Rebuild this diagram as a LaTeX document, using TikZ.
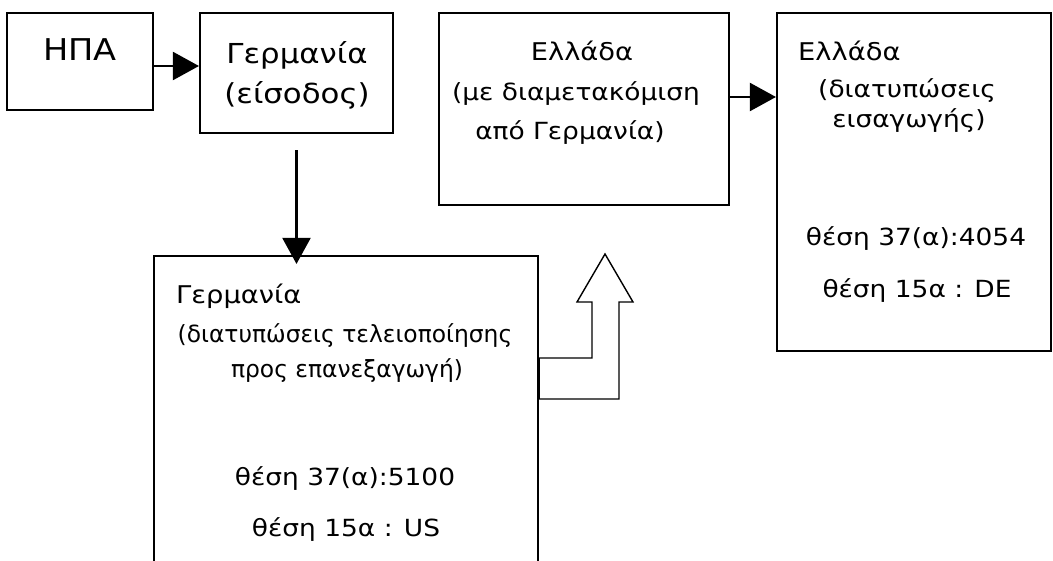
\documentclass[tikz,border=0pt]{standalone}
\usepackage{graphicx}
\usepackage{fontspec}
\setmainfont{DejaVu Sans}[FakeStretch=1.12]
\usetikzlibrary{arrows.meta,calc}
\newcommand{\narrowtext}[1]{\scalebox{0.885}[1]{#1}}
\begin{document}
\begin{tikzpicture}[x=1pt,y=-1pt,
  box/.style={draw, line width=2.1pt, inner sep=0pt},
  lbl/.style={anchor=base, inner sep=0pt, font=\fontsize{23.6}{28}\selectfont},
  head/.style={anchor=base, inner sep=0pt, font=\fontsize{24.4}{28}\selectfont},
  big/.style={anchor=base, inner sep=0pt, font=\fontsize{27.5}{32}\selectfont},
  conn/.style={line width=2.1pt, -{Triangle[length=26pt,width=28pt]}},
  blockarrow/.style={draw, line width=1.4pt, fill=white, line join=miter}]
\clip (0,0) rectangle (1053,560);
\fill[white] (0,0) rectangle (1053,560);
% boxes
\node[box, minimum width=146pt, minimum height=97pt]  (hpa)  at (80,61.5)   {};
\node[box, minimum width=193pt, minimum height=120pt] (ger)  at (296.5,73)  {};
\node[box, minimum width=290pt, minimum height=192pt] (mid)  at (584,109)   {};
\node[box, minimum width=274pt, minimum height=338pt] (rgt)  at (914,182)   {};
\node[box, minimum width=384pt, minimum height=319pt] (bot)  at (346,415.5) {};
% connectors
\draw[conn] (hpa.east |- 0,66) -- (ger.west |- 0,66);
\draw[conn] ($(ger.south)+(0,16)$) -- ($(ger.south |- bot.north)+(0,9)$);
\draw[conn] (mid.east |- 0,97) -- (rgt.west |- 0,97);
% hollow bent arrow
\draw[blockarrow] (bot.east |- 0,358) -- (592,358) -- (592,302) -- (577,302) -- (605,254)
  -- (633,302) -- (619,302) -- (619,399) -- (bot.east |- 0,399) -- cycle;
% texts
\node[big, font=\fontsize{30}{34}\selectfont] (thpa) at (80,60) {ΗΠΑ};
\node[big] (tger1) at (297,63)  {Γερμανία};
\node[big] (tger2) at (297,103) {(είσοδος)};
\node[head] (tmid1) at (582,60)  {Ελλάδα};
\node[lbl] (tmid2) at (576,100) {(με διαμετακόμιση};
\node[lbl] (tmid3) at (570,139) {από Γερμανία)};
\node[head, anchor=base west] (tr1) at (798,60) {Ελλάδα};
\node[lbl] (tr2) at (907,97)  {(διατυπώσεις};
\node[lbl] (tr3) at (909,127) {εισαγωγής)};
\node[lbl] (tr4) at (916,245) {θέση 37(α):4054};
\node[lbl] (tr5) at (917,297) {θέση 15α : DE};
\node[head, anchor=base west] (tb1) at (176,303) {Γερμανία};
\node[lbl] (tb2) at (345,342) {\narrowtext{(διατυπώσεις τελειοποίησης}};
\node[lbl] (tb3) at (347,377) {\narrowtext{προς επανεξαγωγή)}};
\node[lbl] (tb4) at (345,485) {θέση 37(α):5100};
\node[lbl] (tb5) at (346,536) {θέση 15α : US};
\end{tikzpicture}
\end{document}
